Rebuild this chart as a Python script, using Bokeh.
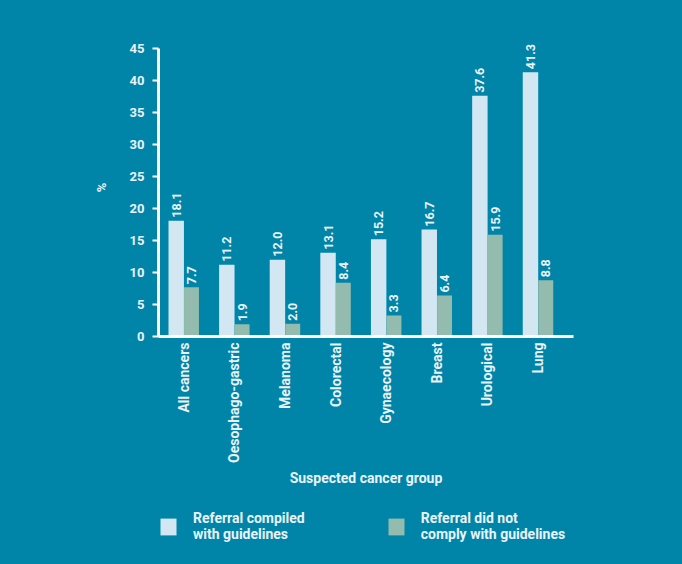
import math
from bokeh.plotting import figure
from bokeh.layouts import column
from bokeh.models import (ColumnDataSource, Range1d, FixedTicker,
                          Legend, LegendItem, LabelSet)
from bokeh.core.properties import value
from bokeh.transform import dodge
from bokeh.embed import file_html
from bokeh.resources import INLINE

categories = ["All cancers", "Oesophago-gastric", "Melanoma", "Colorectal",
              "Gynaecology", "Breast", "Urological", "Lung"]
complied = [18.1, 11.2, 12.0, 13.1, 15.2, 16.7, 37.6, 41.3]
not_complied = [7.7, 1.9, 2.0, 8.4, 3.3, 6.4, 15.9, 8.8]
y_ticks = [0, 5, 10, 15, 20, 25, 30, 35, 40, 45]
series_names = ["Referral compiled\nwith guidelines",
                "Referral did not\ncomply with guidelines"]

BG = "#0085A8"
LIGHT = "#D3E7F3"
GREEN = "#93BBAE"
TXT = "#EAF3F8"
FONT = "Roboto"

xs = list(range(len(categories)))
src = ColumnDataSource(dict(
    x=xs, a=complied, b=not_complied,
    al=[f"{v:.1f}" for v in complied], bl=[f"{v:.1f}" for v in not_complied]))

p = figure(width=682, height=500, x_range=Range1d(-0.5, len(categories) - 0.3),
           y_range=Range1d(0, 46.56), output_backend="svg", toolbar_location=None,
           min_border_left=158, min_border_right=109, min_border_top=38,
           min_border_bottom=164)
p.background_fill_color = None
p.border_fill_color = None
p.outline_line_color = None
p.grid.grid_line_color = None

OFF_A, OFF_B = -0.15, 0.152
ra = p.vbar(x=dodge("x", OFF_A), top="a", width=0.305,
            source=src, fill_color=LIGHT, line_color=None)
rb = p.vbar(x=dodge("x", OFF_B), top="b", width=0.295,
            source=src, fill_color=GREEN, line_color=None)

for col, lab, off in (("a", "al", OFF_A), ("b", "bl", OFF_B)):
    ls = LabelSet(x=dodge("x", off), y=col, text=lab, source=src,
                  angle=math.pi / 2, text_align="left", text_baseline="middle",
                  y_offset=3, text_color=TXT, text_font=value(FONT),
                  text_font_size="12.5px", text_font_style="bold")
    p.add_layout(ls)

# y axis
ya = p.yaxis[0]
ya.ticker = FixedTicker(ticks=y_ticks)
ya.bounds = (y_ticks[0], y_ticks[-1])
ya.axis_line_color = "white"
ya.axis_line_width = 3
ya.major_tick_line_color = "white"
ya.major_tick_line_width = 2
ya.major_tick_out = 6
ya.major_tick_in = 0
ya.minor_tick_line_color = None
ya.major_label_text_color = TXT
ya.major_label_text_font = FONT
ya.major_label_text_font_style = "bold"
ya.major_label_text_font_size = "13px"
ya.major_label_standoff = 8
ya.axis_label = "%"
ya.axis_label_text_color = TXT
ya.axis_label_text_font = FONT
ya.axis_label_text_font_style = "bold"
ya.axis_label_text_font_size = "13px"
ya.axis_label_standoff = 18

xa = p.xaxis[0]
xa.ticker = FixedTicker(ticks=xs)
xa.major_label_overrides = {i: c for i, c in zip(xs, categories)}
xa.axis_line_color = "white"
xa.axis_line_width = 3
xa.major_tick_line_color = None
xa.major_tick_out = 0
xa.major_tick_in = 0
xa.minor_tick_line_color = None
xa.major_label_orientation = math.pi / 2
xa.major_label_text_color = TXT
xa.major_label_text_font = FONT
xa.major_label_text_font_style = "bold"
xa.major_label_text_font_size = "14px"
xa.major_label_standoff = 6
xa.axis_label = "Suspected cancer group"
xa.axis_label_text_color = TXT
xa.axis_label_text_font = FONT
xa.axis_label_text_font_style = "bold"
xa.axis_label_text_font_size = "14px"
xa.axis_label_standoff = 4

# legend strip below the chart
p2 = figure(width=682, height=64, x_range=Range1d(0, 1), y_range=Range1d(100, 101),
            output_backend="svg", toolbar_location=None,
            min_border_left=158, min_border_right=109, min_border_top=0,
            min_border_bottom=0)
p2.axis.visible = False
p2.grid.grid_line_color = None
p2.outline_line_color = None
p2.background_fill_color = None
p2.border_fill_color = None
la = p2.vbar(x=dodge("x", OFF_A), top="a", width=0.305, source=src,
             fill_color=LIGHT, line_color=None)
lb = p2.vbar(x=dodge("x", OFF_B), top="b", width=0.295, source=src,
             fill_color=GREEN, line_color=None)
legend = Legend(items=[LegendItem(label=series_names[0], renderers=[la]),
                       LegendItem(label=series_names[1], renderers=[lb])],
                orientation="horizontal", location=(0, 22),
                padding=0, margin=0, spacing=81,
                glyph_width=20, glyph_height=21, label_standoff=15,
                label_text_color=TXT, label_text_font=FONT,
                label_text_font_style="bold", label_text_font_size="14px",
                label_text_line_height=1.05,
                border_line_color=None, background_fill_alpha=0)
p2.add_layout(legend, "center")

html = file_html(column(p, p2, spacing=0), INLINE)
html = html.replace("</head>",
                    f"<style>html, body {{ background-color: {BG}; }}</style></head>", 1)
open("out.html", "w").write(html)
